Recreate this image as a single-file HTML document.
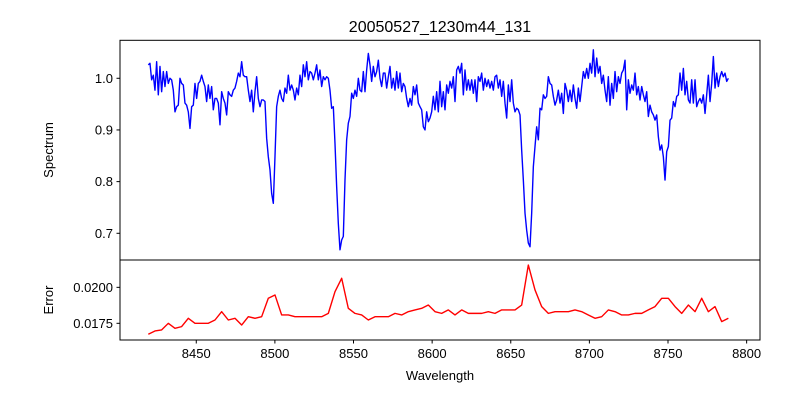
<!DOCTYPE html>
<html><head><meta charset="utf-8"><style>
body{margin:0;background:#fff;}
svg{display:block;font-family:"Liberation Sans","DejaVu Sans",sans-serif;}
</style></head><body>
<svg id="chart" width="800" height="400" viewBox="0 0 800 400">
<rect width="800" height="400" fill="#fff"/>
<text x="440" y="32" font-size="16" text-anchor="middle">20050527_1230m44_131</text>
<g id="top"></g>
<g id="bot"></g>
<text x="440" y="380" font-size="13" text-anchor="middle">Wavelength</text>
<text transform="translate(53,150) rotate(-90)" font-size="13" text-anchor="middle">Spectrum</text>
<text transform="translate(53,300) rotate(-90)" font-size="13" text-anchor="middle">Error</text>
</svg>
<script>
const specStart = 8419.5, specStep = 1.06;
const specFlux = [1.026,1.029,0.997,1.006,0.977,1.032,0.968,1.023,0.974,1.013,0.984,1.013,0.990,1.000,0.997,0.977,0.935,0.945,0.948,1.000,0.990,0.987,0.952,0.948,0.935,0.903,0.945,0.948,0.990,0.961,0.990,0.994,1.006,0.994,0.984,0.955,0.987,0.961,0.984,0.939,0.961,0.961,0.952,0.910,0.974,0.961,0.952,0.929,0.974,0.968,0.965,0.977,0.981,0.994,1.010,1.003,1.032,1.006,1.003,1.003,0.977,0.955,0.977,0.935,0.974,1.003,0.961,0.945,0.958,0.958,0.955,0.884,0.848,0.823,0.777,0.758,0.848,0.945,0.965,0.977,0.961,0.955,0.981,0.971,1.006,0.977,0.987,0.977,0.958,0.981,0.968,1.006,0.984,1.026,1.003,1.032,0.997,1.013,1.010,0.997,1.010,1.026,0.997,1.016,0.984,1.003,0.997,1.003,1.000,0.977,0.942,0.945,0.874,0.790,0.719,0.668,0.687,0.694,0.803,0.881,0.913,
0.926,0.971,0.961,0.977,0.965,1.000,0.977,0.974,1.013,0.974,1.016,1.048,1.026,0.994,1.023,1.003,1.013,1.035,1.000,0.984,1.010,1.010,0.981,1.003,1.023,0.981,1.000,0.977,1.013,0.981,1.010,0.974,0.990,0.984,0.961,0.945,0.961,0.948,0.984,0.968,0.987,0.952,0.945,0.939,0.906,0.900,0.935,0.916,0.923,0.935,0.965,0.939,0.974,0.935,0.994,0.945,0.974,0.939,0.987,0.971,0.994,0.981,1.003,0.955,1.016,1.023,1.010,1.029,0.968,1.016,0.977,0.997,0.977,0.997,0.971,0.997,0.955,1.003,0.994,1.010,0.977,1.000,0.984,0.997,0.981,0.994,0.977,1.003,1.006,0.981,0.997,0.965,0.994,0.952,0.923,0.987,0.955,0.997,0.952,0.935,0.942,0.939,0.929,0.861,0.803,0.739,0.706,0.681,0.674,0.739,0.829,0.868,0.906,0.881,0.942,0.939,0.968,0.961,0.965,1.003,0.990,0.987,0.965,0.948,0.958,
0.977,0.952,0.971,0.932,0.990,0.977,0.955,0.977,0.955,0.987,0.961,0.942,0.981,0.955,0.984,1.013,1.000,1.019,1.000,1.029,1.010,1.055,1.003,1.039,1.010,1.023,0.990,1.006,0.977,0.955,1.003,0.948,0.990,0.961,1.013,0.974,1.003,0.990,1.010,1.016,1.035,0.939,0.997,0.971,0.987,0.977,1.010,0.968,0.984,0.958,0.984,0.968,0.955,0.974,0.926,0.948,0.935,0.929,0.919,0.929,0.887,0.861,0.871,0.848,0.803,0.858,0.868,0.919,0.923,0.955,0.945,0.965,0.968,1.010,0.977,1.019,0.968,0.994,0.958,0.952,0.997,0.952,0.997,0.945,0.955,0.961,0.952,0.968,0.932,0.968,1.006,0.955,0.990,1.042,0.981,1.010,0.984,1.003,1.013,1.003,1.010,0.994,1.000];
const errStart = 8419.5, errStep = 4.24;
const errVals = [0.01674,0.01697,0.01704,0.0175,0.01715,0.01727,0.01785,0.0175,0.0175,0.0175,0.01773,0.01831,0.01773,0.01785,0.01738,0.01796,0.01785,0.01796,0.01924,0.01947,0.01808,0.01808,0.01796,0.01796,0.01796,0.01796,0.01796,0.01819,0.0197,0.02063,0.01854,0.01819,0.01808,0.01773,0.01796,0.01796,0.01796,0.01819,0.01808,0.01831,0.01843,0.01854,0.01877,0.01831,
0.01819,0.01843,0.01808,0.01843,0.01819,0.01819,0.01819,0.01831,0.01819,0.01843,0.01843,0.01843,0.01877,0.02155,0.01982,0.01866,0.01819,0.01831,0.01831,0.01831,0.01843,0.01831,0.01808,0.01785,0.01796,0.01843,0.01831,0.01808,0.01808,0.01819,0.01819,0.01843,0.01866,0.01924,0.01924,0.01866,0.01819,0.01877,0.01831,0.01924,0.01831,0.01866,0.01762,0.01785];
const xTicks = [8450,8500,8550,8600,8650,8700,8750,8800];
const specTicks = [0.7,0.8,0.9,1.0];
const specTickLabels = ["0.7","0.8","0.9","1.0"];
const errTicks = [0.0175,0.0200];
const errTickLabels = ["0.0175","0.0200"];

const NS = "http://www.w3.org/2000/svg";
const L = 120, R = 760;
const xMin = 8401.5, xMax = 8808.5;
const sx = v => L + (v - xMin) / (xMax - xMin) * (R - L);
const topT = 40.3, topB = 260, sMin = 0.6483, sMax = 1.0735;
const sy = v => topB - (v - sMin) / (sMax - sMin) * (topB - topT);
const botT = 260, botB = 340, eMin = 0.01634, eMax = 0.02190;
const ey = v => botB - (v - eMin) / (eMax - eMin) * (botB - botT);

function mk(tag, attrs, parent) {
  const el = document.createElementNS(NS, tag);
  for (const k in attrs) el.setAttribute(k, attrs[k]);
  parent.appendChild(el);
  return el;
}
const gTop = document.getElementById('top');
const gBot = document.getElementById('bot');

let d = specFlux.map((v, i) => (i ? 'L' : 'M') + sx(specStart + i * specStep).toFixed(2) + ',' + sy(v).toFixed(2)).join('');
const sl = mk('path', {d: d, fill: 'none', stroke: '#0000ff', 'stroke-width': 1.4, 'stroke-linejoin': 'round'}, gTop);



d = errVals.map((v, i) => (i ? 'L' : 'M') + sx(errStart + i * errStep).toFixed(2) + ',' + ey(v).toFixed(2)).join('');
const el2 = mk('path', {d: d, fill: 'none', stroke: '#ff0000', 'stroke-width': 1.4, 'stroke-linejoin': 'round'}, gBot);



const f1 = mk('rect', {x: L, y: topT, width: R - L, height: topB - topT, fill: 'none', stroke: '#000', 'stroke-width': 1}, gTop);


const f2 = mk('rect', {x: L, y: botT, width: R - L, height: botB - botT, fill: 'none', stroke: '#000', 'stroke-width': 1}, gBot);



specTicks.forEach((t, i) => {
  const y = sy(t);
  const tk = mk('line', {x1: L - 3.5, x2: L, y1: y, y2: y, stroke: '#000'}, gTop);
  
  
  const tx = mk('text', {x: L - 7, y: y + 4.5, 'font-size': 13, 'text-anchor': 'end'}, gTop);
  tx.textContent = specTickLabels[i];
  
  
});
errTicks.forEach((t, i) => {
  const y = ey(t);
  const tk = mk('line', {x1: L - 3.5, x2: L, y1: y, y2: y, stroke: '#000'}, gBot);
  
  
  const tx = mk('text', {x: L - 7, y: y + 4.5, 'font-size': 13, 'text-anchor': 'end'}, gBot);
  tx.textContent = errTickLabels[i];
  
  
});
xTicks.forEach(t => {
  const x = sx(t);
  const tk = mk('line', {x1: x, x2: x, y1: botB, y2: botB + 3.5, stroke: '#000'}, gBot);
  
  
  const tx = mk('text', {x: x, y: botB + 18, 'font-size': 13, 'text-anchor': 'middle'}, gBot);
  tx.textContent = String(t);
  
  
});
</script>
</body></html>
